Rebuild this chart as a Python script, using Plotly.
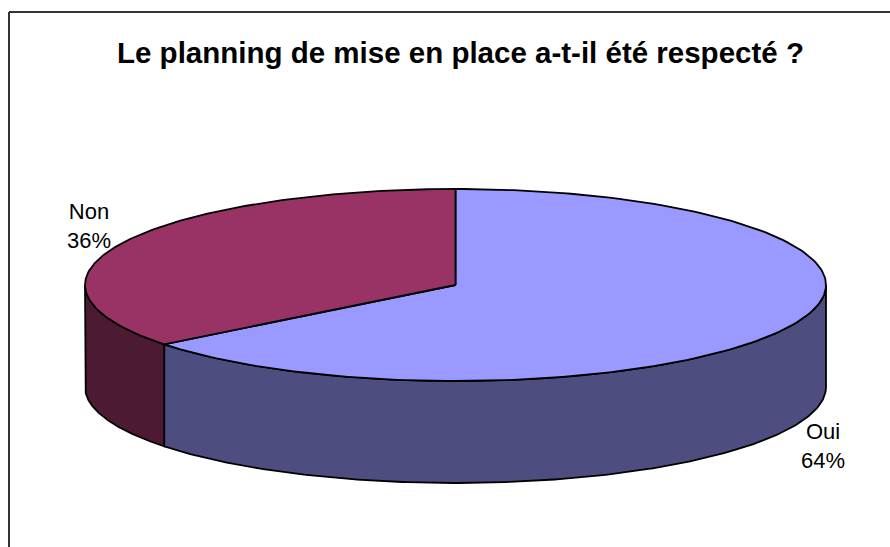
import numpy as np
import plotly.graph_objects as go

# Survey answers, in percent of respondents
categories = ["Oui", "Non"]
shares = [64.4, 35.6]
top_colors = ["#9999FF", "#993366"]
wall_colors = ["#4D4D80", "#4D1A33"]
title_text = "Le planning de mise en place a-t-il été respecté ?"

# Pie geometry on a pixel-sized plotting area
CX, CY, RX, RY, DEPTH = 455.5, 285.0, 370.5, 96.0, 102.0


def rim(start_deg, end_deg, drop=0.0, n=180):
    """Points along the elliptical rim; angles run clockwise from 12 o'clock."""
    a = np.radians(np.linspace(start_deg, end_deg, n))
    return CX + RX * np.sin(a), CY - RY * np.cos(a) + drop


def add_poly(fig, x, y, fill):
    fig.add_trace(go.Scatter(
        x=x, y=y, mode="lines", fill="toself", fillcolor=fill,
        line=dict(color="black", width=1.8), hoverinfo="skip", showlegend=False,
    ))


fig = go.Figure()

total = sum(shares)
bounds = np.cumsum([0.0] + [s / total * 360 for s in shares])

# Side walls: only the front half of the cylinder (90° to 270°) is visible
for i in range(len(shares)):
    lo, hi = max(bounds[i], 90.0), min(bounds[i + 1], 270.0)
    if lo < hi:
        xt, yt = rim(lo, hi)
        xb, yb = rim(lo, hi, DEPTH)
        add_poly(fig,
                 np.r_[xt, xb[::-1], xt[0]],
                 np.r_[yt, yb[::-1], yt[0]],
                 wall_colors[i])

# Top faces, each closed through the pie's centre
for i in range(len(shares)):
    xt, yt = rim(bounds[i], bounds[i + 1])
    add_poly(fig, np.r_[CX, xt, CX], np.r_[CY, yt, CY], top_colors[i])

label_pos = [(823, 446), (89, 226)]
annotations = [
    dict(x=px, y=py, xref="x", yref="y", showarrow=False, align="center",
         text=f"{c}<br>{s / total:.0%}",
         font=dict(family="Liberation Sans", size=22, color="black"))
    for c, s, (px, py) in zip(categories, shares, label_pos)
]
annotations.append(dict(
    x=460, y=52, xref="x", yref="y", showarrow=False,
    text=f"<b>{title_text}</b>",
    font=dict(family="Liberation Sans", size=29.5, color="black"),
))

fig.update_layout(
    width=890, height=547, autosize=False,
    margin=dict(l=0, r=0, t=0, b=0),
    paper_bgcolor="white", plot_bgcolor="white",
    xaxis=dict(range=[0, 890], visible=False, fixedrange=True),
    yaxis=dict(range=[547, 0], visible=False, fixedrange=True),
    annotations=annotations,
    # Chart frame: left and top edges reach the page border
    shapes=[dict(type="line", xref="x", yref="y", x0=x0, y0=y0, x1=x1, y1=y1,
                 line=dict(color="#333333", width=2), layer="below")
            for x0, y0, x1, y1 in [(9, 547, 9, 12), (9, 12, 890, 12)]],
)

fig.write_html("out.html", config=dict(displayModeBar=False))
